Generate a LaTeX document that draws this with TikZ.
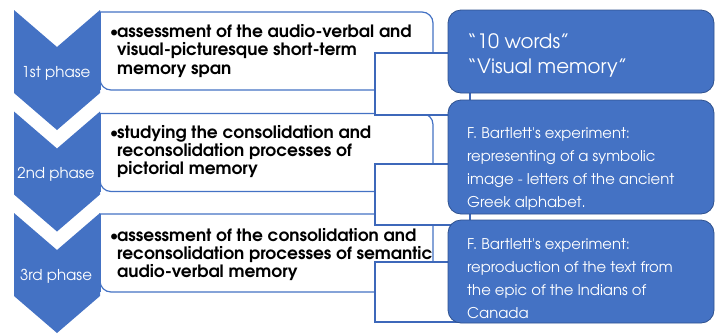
\documentclass[tikz,border=0pt]{standalone}
\usepackage{fontspec}
\newfontfamily\gothic[Extension=.otf,UprightFont=*-regular,BoldFont=*-bold]{texgyreadventor}
\usetikzlibrary{calc}
\definecolor{ofblue}{HTML}{4472C4}
\definecolor{ofdark}{HTML}{2F528F}
\definecolor{ofline}{HTML}{3D68BA}
\tikzset{
  x=1pt,y=-1pt,
  chev/.style={fill=ofblue,draw=none},
  wbox/.style={fill=white,draw=ofblue,line width=1.2pt,rounded corners=11pt},
  ovrect/.style={fill=white,draw=ofline,line width=1.1pt},
  bbox/.style={fill=ofblue,draw=ofdark,line width=0.8pt,rounded corners=13pt},
  phase/.style={text=white,font=\gothic\fontsize{15}{18}\selectfont,anchor=base,inner sep=0pt},
  btxt/.style={text=black,font=\gothic\bfseries\fontsize{17}{20}\selectfont,anchor=base west,inner sep=0pt},
  bul/.style={text=black,font=\gothic\bfseries\fontsize{14}{18}\selectfont,anchor=base west,inner sep=0pt},
  rtxtA/.style={text=white,font=\gothic\fontsize{19.8}{24}\selectfont,anchor=base west,inner sep=0pt},
  rtxt/.style={text=white,font=\gothic\fontsize{14.8}{20}\selectfont,anchor=base west,inner sep=0pt},
}
\begin{document}
\begin{tikzpicture}
\useasboundingbox (0,0) rectangle (715,333);
% chevrons
\foreach \t in {10,111.5,213}{
  \path[chev] (14,\t) -- (57,\t+37) -- (100,\t) -- (100,\t+83) -- (57,\t+120) -- (14,\t+83) -- cycle;
}
% white boxes
\foreach \t in {12,113.5,214}{
  \path[wbox] (100,\t) -- (433,\t) -- (433,\t+78) -- (100,\t+78) [sharp corners] -- cycle;
}
\draw[ofblue,line width=1.2pt] (100,12) -- (100,90) (100,113.5) -- (100,191.5) (100,214) -- (100,292);
% overlay rectangles
\path[ovrect] (375,53) rectangle (470,115);
\path[ovrect] (375,164) rectangle (470,225);
\path[ovrect] (375,262) rectangle (470,322);
% blue boxes
\path[bbox] (448,10) rectangle (714,93);
\path[bbox] (448,100) rectangle (714,214);
\path[bbox] (448,220) rectangle (714,323);
% phase labels
\node[phase] (p1) at (56,77) {1st phase};
\node[phase] (p2) at (56,178.5) {2nd phase};
\node[phase] (p3) at (56,280) {3rd phase};
% bullets
\node[bul] (b1) at (110,36) {•};
\node[bul] (b2) at (110,137) {•};
\node[bul] (b3) at (110,240) {•};
% left texts
\node[btxt] (a1) at (117,37) {assessment of the audio-verbal and};
\node[btxt] (a2) at (117,55.5) {visual-picturesque short-term};
\node[btxt] (a3) at (117,74) {memory span};
\node[btxt] (s1) at (117,138) {studying the consolidation and};
\node[btxt] (s2) at (117,156) {reconsolidation processes of};
\node[btxt] (s3) at (117,174) {pictorial memory};
\node[btxt] (c1) at (117,241) {assessment of the consolidation and};
\node[btxt] (c2) at (117,259) {reconsolidation processes of semantic};
\node[btxt] (c3) at (117,277) {audio-verbal memory};
% right texts
\node[rtxtA] (r1) at (467,48) {“10 words”};
\node[rtxtA] (r2) at (467,73) {“Visual memory”};
\node[rtxt] (f1) at (467,138) {F. Bartlett's experiment:};
\node[rtxt] (f2) at (467,161) {representing of a symbolic};
\node[rtxt] (f3) at (467,184) {image - letters of the ancient};
\node[rtxt] (f4) at (467,207) {Greek alphabet.};
\node[rtxt] (g1) at (467,249) {F. Bartlett's experiment:};
\node[rtxt] (g2) at (467,272) {reproduction of the text from};
\node[rtxt] (g3) at (467,295) {the epic of the Indians of};
\node[rtxt] (g4) at (467,318) {Canada};
\end{tikzpicture}
\end{document}
